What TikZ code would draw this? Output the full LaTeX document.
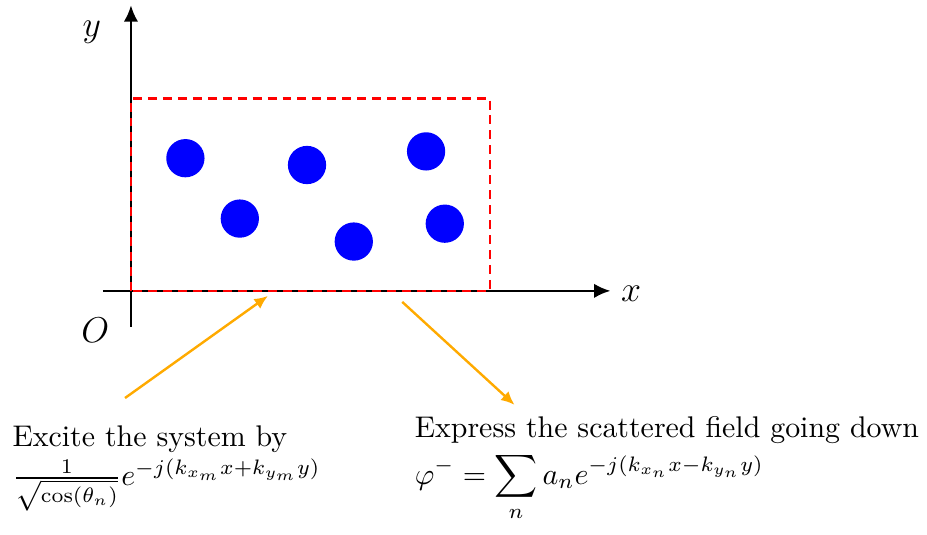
\documentclass[tikz,border=0pt]{standalone}
\usepackage{amsmath, amssymb}
\usepackage{xcolor}
\usepackage{tikz}
\usetikzlibrary{arrows.meta,positioning}

\definecolor{waveorange}{RGB}{255,170,0}

\begin{document}
\begin{tikzpicture}[
        axis/.style={line width=0.9pt, -{Latex[length=5.5pt,width=4.8pt]}},
        wave/.style={line width=0.8pt, waveorange, -{Latex[length=4.5pt,width=4pt]}},
        scatterer/.style={circle, fill=blue, inner sep=0pt, minimum size=0.45cm},
        region/.style={line width=0.9pt, dash pattern=on 3pt off 2pt, red},
        caption/.style={align=left, inner sep=0pt, anchor=north west}
    ]
        \useasboundingbox (-1.54,-2.86) rectangle (9.36,3.42);
        \coordinate (O) at (0,0);
        \coordinate (xstart) at (-0.33,0);
        \coordinate (xend) at (5.64,0);
        \coordinate (ystart) at (0,-0.42);
        \coordinate (yend) at (0,3.36);
        \draw[axis] (xstart) -- (xend);
        \draw[axis] (ystart) -- (yend);
        \node (xlabel) at (5.88,-0.04) {\large $x$};
        \node (ylabel) at (-0.46,3.04) {\large $y$};
        \node (olabel) at (-0.42,-0.46) {\large $O$};
        \coordinate (corner) at (4.22,2.26);
        \draw[region] (O) rectangle (corner);
        \node[scatterer] (c1) at (0.64,1.56) {};
        \node[scatterer] (c2) at (1.28,0.85) {};
        \node[scatterer] (c3) at (2.07,1.48) {};
        \node[scatterer] (c4) at (2.62,0.58) {};
        \node[scatterer] (c5) at (3.47,1.64) {};
        \node[scatterer] (c6) at (3.69,0.79) {};
        \coordinate (inc start) at (-0.07,-1.26);
        \coordinate (inc end) at (1.61,-0.06);
        \coordinate (sca start) at (3.19,-0.13);
        \coordinate (sca end) at (4.51,-1.34);
        \draw[wave] (inc start) -- (inc end);
        \draw[wave] (sca start) -- (sca end);
        \node[caption] (excite) at (-1.40,-1.58) {Excite the system by\\[1pt]
            $\frac{1}{\sqrt{\cos(\theta_n)}}e^{-j(k_{x_m}x+k_{y_m}y)}$};
        \node[caption] (express) at (3.33,-1.47) {Express the scattered field going down\\[2pt]
            $\displaystyle\varphi^- = \sum_n a_n e^{-j(k_{x_n}x-k_{y_n}y)}$};
    \end{tikzpicture}
\end{document}
